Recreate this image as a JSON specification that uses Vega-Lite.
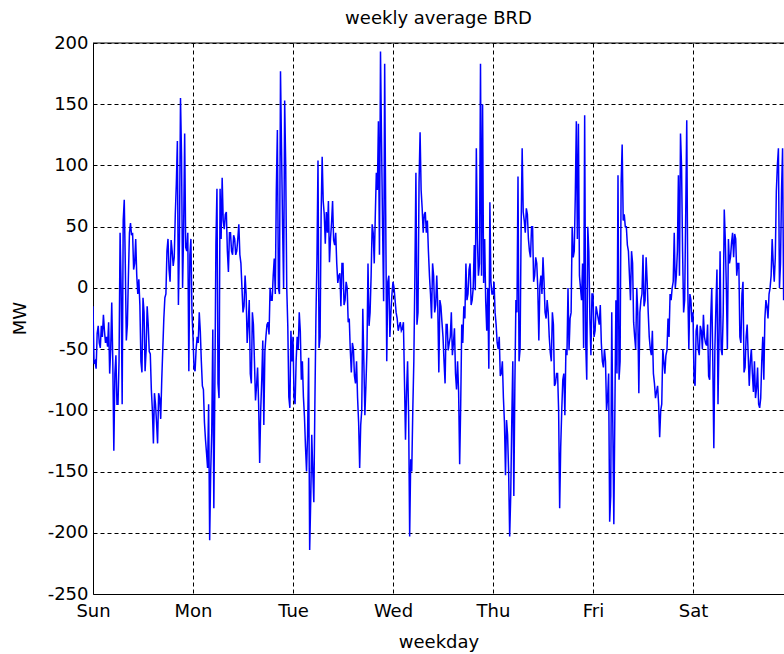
{
  "$schema": "https://vega.github.io/schema/vega-lite/v6.json",
  "width": 691,
  "height": 551,
  "autosize": {"type": "none"},
  "padding": {"left": 93, "top": 43, "right": 0, "bottom": 60},
  "background": "white",
  "config": {"view": {"stroke": null}, "font": "DejaVu Sans"},
  "title": {"text": "weekly average BRD", "fontSize": 18, "fontWeight": "normal", "color": "black", "font": "DejaVu Sans", "frame": "group", "anchor": "middle", "baseline": "alphabetic", "offset": -8},
  "resolve": {"axis": {"y": "independent"}},
  "layer": [
    {
      "data": {"values": [
        {"t":0,"v":-15},{"t":0.25,"v":-62},{"t":0.5,"v":-60},{"t":0.75,"v":-66},{"t":1,"v":-37},{"t":1.25,"v":-31},{"t":1.5,"v":-45},{"t":1.75,"v":-49},{"t":2,"v":-31},{"t":2.25,"v":-40},{"t":2.5,"v":-22},{"t":2.75,"v":-35},{"t":3,"v":-45},{"t":3.25,"v":-40},{"t":3.5,"v":-48},{"t":3.75,"v":-28},{"t":4,"v":-70},{"t":4.25,"v":-50},{"t":4.5,"v":-12},{"t":4.75,"v":-60},{"t":5,"v":-133},{"t":5.25,"v":-70},{"t":5.5,"v":-55},{"t":5.75,"v":-95},{"t":6,"v":-95},{"t":6.25,"v":-60},{"t":6.5,"v":45},{"t":6.75,"v":1},{"t":7,"v":-95},{"t":7.25,"v":55},{"t":7.5,"v":72},{"t":7.75,"v":20},{"t":8,"v":-43},{"t":8.25,"v":-30},{"t":8.5,"v":10},{"t":8.75,"v":45},{"t":9,"v":53},{"t":9.25,"v":43},{"t":9.5,"v":45},{"t":9.75,"v":15},{"t":10,"v":20},{"t":10.25,"v":40},{"t":10.5,"v":10},{"t":10.75,"v":-5},{"t":11,"v":7},{"t":11.25,"v":-14},{"t":11.5,"v":-60},{"t":11.75,"v":-69},{"t":12,"v":-8},{"t":12.25,"v":-20},{"t":12.5,"v":-68},{"t":12.75,"v":-51},{"t":13,"v":-15},{"t":13.25,"v":-30},{"t":13.5,"v":-52},{"t":13.75,"v":-54},{"t":14,"v":-83},{"t":14.25,"v":-100},{"t":14.5,"v":-127},{"t":14.75,"v":-86},{"t":15,"v":-95},{"t":15.25,"v":-110},{"t":15.5,"v":-127},{"t":15.75,"v":-86},{"t":16,"v":-90},{"t":16.25,"v":-107},{"t":16.5,"v":-75},{"t":16.75,"v":-50},{"t":17,"v":-25},{"t":17.25,"v":-8},{"t":17.5,"v":-5},{"t":17.75,"v":30},{"t":18,"v":40},{"t":18.25,"v":15},{"t":18.5,"v":5},{"t":18.75,"v":39},{"t":19,"v":30},{"t":19.25,"v":18},{"t":19.5,"v":25},{"t":19.75,"v":60},{"t":20,"v":85},{"t":20.25,"v":120},{"t":20.5,"v":-14},{"t":20.75,"v":40},{"t":21,"v":155},{"t":21.25,"v":108},{"t":21.5,"v":0},{"t":21.75,"v":47},{"t":22,"v":126},{"t":22.25,"v":33},{"t":22.5,"v":30},{"t":22.75,"v":45},{"t":23,"v":-68},{"t":23.25,"v":27},{"t":23.5,"v":40},{"t":23.75,"v":-20},
        {"t":24,"v":-40},{"t":24.25,"v":-66},{"t":24.5,"v":-68},{"t":24.75,"v":-50},{"t":25,"v":-40},{"t":25.25,"v":-45},{"t":25.5,"v":-20},{"t":25.75,"v":-35},{"t":26,"v":-60},{"t":26.25,"v":-80},{"t":26.5,"v":-83},{"t":26.75,"v":-110},{"t":27,"v":-124},{"t":27.25,"v":-135},{"t":27.5,"v":-147},{"t":27.75,"v":-95},{"t":28,"v":-206},{"t":28.25,"v":-150},{"t":28.5,"v":-118},{"t":28.75,"v":-34},{"t":29,"v":-180},{"t":29.25,"v":-78},{"t":29.5,"v":36},{"t":29.75,"v":81},{"t":30,"v":-78},{"t":30.25,"v":-90},{"t":30.5,"v":81},{"t":30.75,"v":40},{"t":31,"v":90},{"t":31.25,"v":55},{"t":31.5,"v":48},{"t":31.75,"v":60},{"t":32,"v":62},{"t":32.25,"v":30},{"t":32.5,"v":13},{"t":32.75,"v":45},{"t":33,"v":45},{"t":33.25,"v":30},{"t":33.5,"v":27},{"t":33.75,"v":43},{"t":34,"v":40},{"t":34.25,"v":27},{"t":34.5,"v":30},{"t":34.75,"v":40},{"t":35,"v":52},{"t":35.25,"v":27},{"t":35.5,"v":20},{"t":35.75,"v":0},{"t":36,"v":-20},{"t":36.25,"v":-15},{"t":36.5,"v":10},{"t":36.75,"v":-5},{"t":37,"v":-45},{"t":37.25,"v":-30},{"t":37.5,"v":-10},{"t":37.75,"v":-70},{"t":38,"v":-78},{"t":38.25,"v":-20},{"t":38.5,"v":-30},{"t":38.75,"v":-60},{"t":39,"v":-92},{"t":39.25,"v":-80},{"t":39.5,"v":-65},{"t":39.75,"v":-95},{"t":40,"v":-143},{"t":40.25,"v":-100},{"t":40.5,"v":-75},{"t":40.75,"v":-43},{"t":41,"v":-112},{"t":41.25,"v":-52},{"t":41.5,"v":-40},{"t":41.75,"v":-30},{"t":42,"v":-28},{"t":42.25,"v":-38},{"t":42.5,"v":0},{"t":42.75,"v":-10},{"t":43,"v":-10},{"t":43.25,"v":10},{"t":43.5,"v":24},{"t":43.75,"v":-5},{"t":44,"v":80},{"t":44.25,"v":129},{"t":44.5,"v":0},{"t":44.75,"v":-5},{"t":45,"v":177},{"t":45.25,"v":114},{"t":45.5,"v":50},{"t":45.75,"v":0},{"t":46,"v":153},{"t":46.25,"v":100},{"t":46.5,"v":0},{"t":46.75,"v":-31},{"t":47,"v":-89},{"t":47.25,"v":-98},{"t":47.5,"v":-35},{"t":47.75,"v":-60},
        {"t":48,"v":-40},{"t":48.25,"v":-90},{"t":48.5,"v":-95},{"t":48.75,"v":-60},{"t":49,"v":-40},{"t":49.25,"v":-50},{"t":49.5,"v":-20},{"t":49.75,"v":-35},{"t":50,"v":-75},{"t":50.25,"v":-60},{"t":50.5,"v":-89},{"t":50.75,"v":-105},{"t":51,"v":-130},{"t":51.25,"v":-150},{"t":51.5,"v":-120},{"t":51.75,"v":-57},{"t":52,"v":-214},{"t":52.25,"v":-174},{"t":52.5,"v":-120},{"t":52.75,"v":-150},{"t":53,"v":-175},{"t":53.25,"v":-95},{"t":53.5,"v":-25},{"t":53.75,"v":24},{"t":54,"v":104},{"t":54.25,"v":-49},{"t":54.5,"v":-40},{"t":54.75,"v":60},{"t":55,"v":107},{"t":55.25,"v":71},{"t":55.5,"v":60},{"t":55.75,"v":36},{"t":56,"v":62},{"t":56.25,"v":45},{"t":56.5,"v":71},{"t":56.75,"v":21},{"t":57,"v":40},{"t":57.25,"v":53},{"t":57.5,"v":71},{"t":57.75,"v":39},{"t":58,"v":35},{"t":58.25,"v":45},{"t":58.5,"v":20},{"t":58.75,"v":4},{"t":59,"v":10},{"t":59.25,"v":12},{"t":59.5,"v":-15},{"t":59.75,"v":20},{"t":60,"v":20},{"t":60.25,"v":-14},{"t":60.5,"v":-10},{"t":60.75,"v":5},{"t":61,"v":0},{"t":61.25,"v":-28},{"t":61.5,"v":-25},{"t":61.75,"v":-51},{"t":62,"v":-69},{"t":62.25,"v":-45},{"t":62.5,"v":-50},{"t":62.75,"v":-72},{"t":63,"v":-78},{"t":63.25,"v":-60},{"t":63.5,"v":-90},{"t":63.75,"v":-110},{"t":64,"v":-147},{"t":64.25,"v":-112},{"t":64.5,"v":-100},{"t":64.75,"v":-17},{"t":65,"v":-60},{"t":65.25,"v":-104},{"t":65.5,"v":-80},{"t":65.75,"v":-51},{"t":66,"v":20},{"t":66.25,"v":-31},{"t":66.5,"v":-20},{"t":66.75,"v":10},{"t":67,"v":52},{"t":67.25,"v":45},{"t":67.5,"v":20},{"t":67.75,"v":59},{"t":68,"v":94},{"t":68.25,"v":80},{"t":68.5,"v":136},{"t":68.75,"v":27},{"t":69,"v":193},{"t":69.25,"v":120},{"t":69.5,"v":50},{"t":69.75,"v":-11},{"t":70,"v":183},{"t":70.25,"v":60},{"t":70.5,"v":-60},{"t":70.75,"v":5},{"t":71,"v":10},{"t":71.25,"v":-40},{"t":71.5,"v":-20},{"t":71.75,"v":-5},
        {"t":72,"v":5},{"t":72.25,"v":0},{"t":72.5,"v":-10},{"t":72.75,"v":-20},{"t":73,"v":-25},{"t":73.25,"v":-35},{"t":73.5,"v":-31},{"t":73.75,"v":-28},{"t":74,"v":-35},{"t":74.25,"v":-33},{"t":74.5,"v":-28},{"t":74.75,"v":-75},{"t":75,"v":-124},{"t":75.25,"v":-85},{"t":75.5,"v":-60},{"t":75.75,"v":-104},{"t":76,"v":-203},{"t":76.25,"v":-140},{"t":76.5,"v":-150},{"t":76.75,"v":-100},{"t":77,"v":-60},{"t":77.25,"v":10},{"t":77.5,"v":94},{"t":77.75,"v":-30},{"t":78,"v":-20},{"t":78.25,"v":86},{"t":78.5,"v":127},{"t":78.75,"v":80},{"t":79,"v":65},{"t":79.25,"v":45},{"t":79.5,"v":60},{"t":79.75,"v":62},{"t":80,"v":45},{"t":80.25,"v":55},{"t":80.5,"v":30},{"t":80.75,"v":10},{"t":81,"v":-5},{"t":81.25,"v":-25},{"t":81.5,"v":20},{"t":81.75,"v":10},{"t":82,"v":-20},{"t":82.25,"v":-14},{"t":82.5,"v":10},{"t":82.75,"v":-15},{"t":83,"v":-69},{"t":83.25,"v":-10},{"t":83.5,"v":-15},{"t":83.75,"v":-28},{"t":84,"v":-40},{"t":84.25,"v":-60},{"t":84.5,"v":-78},{"t":84.75,"v":-30},{"t":85,"v":-30},{"t":85.25,"v":-51},{"t":85.5,"v":-45},{"t":85.75,"v":-40},{"t":86,"v":-20},{"t":86.25,"v":-55},{"t":86.5,"v":-45},{"t":86.75,"v":-33},{"t":87,"v":-70},{"t":87.25,"v":-83},{"t":87.5,"v":-60},{"t":87.75,"v":-85},{"t":88,"v":-144},{"t":88.25,"v":-95},{"t":88.5,"v":-30},{"t":88.75,"v":-45},{"t":89,"v":-15},{"t":89.25,"v":-25},{"t":89.5,"v":20},{"t":89.75,"v":-10},{"t":90,"v":-5},{"t":90.25,"v":15},{"t":90.5,"v":20},{"t":90.75,"v":-14},{"t":91,"v":-10},{"t":91.25,"v":0},{"t":91.5,"v":35},{"t":91.75,"v":-2},{"t":92,"v":114},{"t":92.25,"v":40},{"t":92.5,"v":10},{"t":92.75,"v":20},{"t":93,"v":183},{"t":93.25,"v":10},{"t":93.5,"v":150},{"t":93.75,"v":4},{"t":94,"v":40},{"t":94.25,"v":-11},{"t":94.5,"v":-35},{"t":94.75,"v":0},{"t":95,"v":-66},{"t":95.25,"v":70},{"t":95.5,"v":5},{"t":95.75,"v":-5},
        {"t":96,"v":-5},{"t":96.25,"v":5},{"t":96.5,"v":-20},{"t":96.75,"v":-30},{"t":97,"v":-45},{"t":97.25,"v":-50},{"t":97.5,"v":-40},{"t":97.75,"v":-72},{"t":98,"v":-70},{"t":98.25,"v":-60},{"t":98.5,"v":-90},{"t":98.75,"v":-110},{"t":99,"v":-153},{"t":99.25,"v":-108},{"t":99.5,"v":-120},{"t":99.75,"v":-150},{"t":100,"v":-203},{"t":100.25,"v":-170},{"t":100.5,"v":-110},{"t":100.75,"v":-60},{"t":101,"v":-170},{"t":101.25,"v":-78},{"t":101.5,"v":-10},{"t":101.75,"v":-20},{"t":102,"v":91},{"t":102.25,"v":-60},{"t":102.5,"v":-50},{"t":102.75,"v":50},{"t":103,"v":114},{"t":103.25,"v":62},{"t":103.5,"v":55},{"t":103.75,"v":45},{"t":104,"v":65},{"t":104.25,"v":60},{"t":104.5,"v":40},{"t":104.75,"v":30},{"t":105,"v":25},{"t":105.25,"v":50},{"t":105.5,"v":50},{"t":105.75,"v":5},{"t":106,"v":10},{"t":106.25,"v":25},{"t":106.5,"v":20},{"t":106.75,"v":0},{"t":107,"v":-43},{"t":107.25,"v":2},{"t":107.5,"v":10},{"t":107.75,"v":-5},{"t":108,"v":25},{"t":108.25,"v":5},{"t":108.5,"v":-20},{"t":108.75,"v":-25},{"t":109,"v":-10},{"t":109.25,"v":-20},{"t":109.5,"v":-40},{"t":109.75,"v":-53},{"t":110,"v":-60},{"t":110.25,"v":-20},{"t":110.5,"v":-30},{"t":110.75,"v":-80},{"t":111,"v":-78},{"t":111.25,"v":-70},{"t":111.5,"v":-70},{"t":111.75,"v":-100},{"t":112,"v":-180},{"t":112.25,"v":-130},{"t":112.5,"v":-100},{"t":112.75,"v":-75},{"t":113,"v":-70},{"t":113.25,"v":-104},{"t":113.5,"v":-50},{"t":113.75,"v":-55},{"t":114,"v":0},{"t":114.25,"v":-51},{"t":114.5,"v":-25},{"t":114.75,"v":-20},{"t":115,"v":50},{"t":115.25,"v":25},{"t":115.5,"v":30},{"t":115.75,"v":75},{"t":116,"v":136},{"t":116.25,"v":40},{"t":116.5,"v":134},{"t":116.75,"v":10},{"t":117,"v":0},{"t":117.25,"v":-10},{"t":117.5,"v":20},{"t":117.75,"v":-49},{"t":118,"v":141},{"t":118.25,"v":-45},{"t":118.5,"v":-75},{"t":118.75,"v":50},{"t":119,"v":30},{"t":119.25,"v":-25},{"t":119.5,"v":-55},{"t":119.75,"v":-5},
        {"t":120,"v":-5},{"t":120.25,"v":-40},{"t":120.5,"v":-35},{"t":120.75,"v":-15},{"t":121,"v":-20},{"t":121.25,"v":-25},{"t":121.5,"v":-30},{"t":121.75,"v":-14},{"t":122,"v":-45},{"t":122.25,"v":-60},{"t":122.5,"v":-65},{"t":122.75,"v":-50},{"t":123,"v":-60},{"t":123.25,"v":-100},{"t":123.5,"v":-90},{"t":123.75,"v":-70},{"t":124,"v":-191},{"t":124.25,"v":-170},{"t":124.5,"v":-20},{"t":124.75,"v":-110},{"t":125,"v":-193},{"t":125.25,"v":-100},{"t":125.5,"v":-10},{"t":125.75,"v":-70},{"t":126,"v":92},{"t":126.25,"v":-75},{"t":126.5,"v":-60},{"t":126.75,"v":86},{"t":127,"v":117},{"t":127.25,"v":55},{"t":127.5,"v":60},{"t":127.75,"v":50},{"t":128,"v":50},{"t":128.25,"v":35},{"t":128.5,"v":30},{"t":128.75,"v":10},{"t":129,"v":-10},{"t":129.25,"v":30},{"t":129.5,"v":20},{"t":129.75,"v":-28},{"t":130,"v":-40},{"t":130.25,"v":-50},{"t":130.5,"v":0},{"t":130.75,"v":-20},{"t":131,"v":-86},{"t":131.25,"v":-20},{"t":131.5,"v":-10},{"t":131.75,"v":-5},{"t":132,"v":27},{"t":132.25,"v":-15},{"t":132.5,"v":-10},{"t":132.75,"v":25},{"t":133,"v":5},{"t":133.25,"v":-20},{"t":133.5,"v":-40},{"t":133.75,"v":-50},{"t":134,"v":-55},{"t":134.25,"v":-35},{"t":134.5,"v":-70},{"t":134.75,"v":-78},{"t":135,"v":-90},{"t":135.25,"v":-85},{"t":135.5,"v":-80},{"t":135.75,"v":-95},{"t":136,"v":-122},{"t":136.25,"v":-100},{"t":136.5,"v":-95},{"t":136.75,"v":-50},{"t":137,"v":-60},{"t":137.25,"v":-70},{"t":137.5,"v":-55},{"t":137.75,"v":-51},{"t":138,"v":-25},{"t":138.25,"v":-40},{"t":138.5,"v":-5},{"t":138.75,"v":-10},{"t":139,"v":0},{"t":139.25,"v":5},{"t":139.5,"v":45},{"t":139.75,"v":0},{"t":140,"v":10},{"t":140.25,"v":30},{"t":140.5,"v":92},{"t":140.75,"v":10},{"t":141,"v":126},{"t":141.25,"v":100},{"t":141.5,"v":30},{"t":141.75,"v":-20},{"t":142,"v":-10},{"t":142.25,"v":60},{"t":142.5,"v":137},{"t":142.75,"v":0},{"t":143,"v":-50},{"t":143.25,"v":-5},{"t":143.5,"v":-10},{"t":143.75,"v":-28},
        {"t":144,"v":-20},{"t":144.25,"v":-75},{"t":144.5,"v":-80},{"t":144.75,"v":-35},{"t":145,"v":-30},{"t":145.25,"v":-50},{"t":145.5,"v":-55},{"t":145.75,"v":-31},{"t":146,"v":-35},{"t":146.25,"v":-50},{"t":146.5,"v":-22},{"t":146.75,"v":-40},{"t":147,"v":-45},{"t":147.25,"v":-47},{"t":147.5,"v":-30},{"t":147.75,"v":-72},{"t":148,"v":-75},{"t":148.25,"v":-25},{"t":148.5,"v":0},{"t":148.75,"v":-60},{"t":149,"v":-131},{"t":149.25,"v":-50},{"t":149.5,"v":-15},{"t":149.75,"v":15},{"t":150,"v":-95},{"t":150.25,"v":-40},{"t":150.5,"v":30},{"t":150.75,"v":-50},{"t":151,"v":-55},{"t":151.25,"v":-20},{"t":151.5,"v":64},{"t":151.75,"v":40},{"t":152,"v":0},{"t":152.25,"v":-50},{"t":152.5,"v":40},{"t":152.75,"v":20},{"t":153,"v":25},{"t":153.25,"v":37},{"t":153.5,"v":45},{"t":153.75,"v":25},{"t":154,"v":44},{"t":154.25,"v":40},{"t":154.5,"v":10},{"t":154.75,"v":20},{"t":155,"v":20},{"t":155.25,"v":-40},{"t":155.5,"v":-45},{"t":155.75,"v":-5},{"t":156,"v":5},{"t":156.25,"v":-69},{"t":156.5,"v":-65},{"t":156.75,"v":-40},{"t":157,"v":-30},{"t":157.25,"v":-55},{"t":157.5,"v":-80},{"t":157.75,"v":-60},{"t":158,"v":-50},{"t":158.25,"v":-70},{"t":158.5,"v":-85},{"t":158.75,"v":-60},{"t":159,"v":-90},{"t":159.25,"v":-82},{"t":159.5,"v":-65},{"t":159.75,"v":-95},{"t":160,"v":-98},{"t":160.25,"v":-90},{"t":160.5,"v":-60},{"t":160.75,"v":-40},{"t":161,"v":-75},{"t":161.25,"v":-25},{"t":161.5,"v":-10},{"t":161.75,"v":-15},{"t":162,"v":-25},{"t":162.25,"v":-5},{"t":162.5,"v":0},{"t":162.75,"v":10},{"t":163,"v":40},{"t":163.25,"v":20},{"t":163.5,"v":5},{"t":163.75,"v":25},{"t":164,"v":79},{"t":164.25,"v":100},{"t":164.5,"v":114},{"t":164.75,"v":0},{"t":165,"v":20},{"t":165.25,"v":80},{"t":165.5,"v":114},{"t":165.75,"v":-10},{"t":166,"v":0}
      ]},
      "mark": {"type": "line", "color": "#0000ff", "strokeWidth": 1.5, "clip": true},
      "encoding": {
        "x": {"field": "t", "type": "quantitative", "scale": {"domain": [0, 165.84], "nice": false, "zero": false},
          "axis": {"values": [0, 24, 48, 72, 96, 120, 144], "labelExpr": "['Sun','Mon','Tue','Wed','Thu','Fri','Sat'][round(datum.value/24)]", "title": "weekday", "grid": true, "gridColor": "black", "gridDash": [4, 3], "gridWidth": 1, "gridOpacity": 1, "ticks": false, "domainColor": "black", "domainWidth": 1, "labelFontSize": 18, "labelColor": "black", "labelFont": "DejaVu Sans", "labelPadding": 8, "labelFlush": false, "labelOverlap": false, "titleFontSize": 18, "titleFontWeight": "normal", "titleColor": "black", "titleFont": "DejaVu Sans", "titleY": 53, "titleBaseline": "alphabetic"}},
        "y": {"field": "v", "type": "quantitative", "scale": {"domain": [-250, 200], "nice": false, "zero": false},
          "axis": {"values": [-250, -200, -150, -100, -50, 0, 50, 100, 150, 200], "labelExpr": "datum.value + ''", "title": "MW", "grid": true, "gridColor": "black", "gridDash": [4, 3], "gridWidth": 1, "gridOpacity": 1, "ticks": false, "domainColor": "black", "domainWidth": 1, "labelFontSize": 18, "labelColor": "black", "labelFont": "DejaVu Sans", "labelPadding": 5, "labelOverlap": false, "titleFontSize": 18, "titleFontWeight": "normal", "titleColor": "black", "titleFont": "DejaVu Sans", "titleX": -73, "titleY": 275, "titleAngle": 270, "titleBaseline": "middle"}}
      }
    },
    {
      "data": {"values": [{"v": 200}]},
      "mark": {"type": "rule", "color": "black", "strokeWidth": 1},
      "encoding": {"y": {"field": "v", "type": "quantitative", "axis": null}}
    }
  ]
}
